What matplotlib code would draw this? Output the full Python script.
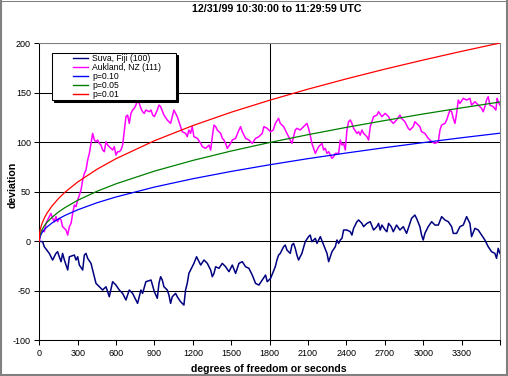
import matplotlib
matplotlib.use("Agg")
import matplotlib.pyplot as plt
from matplotlib.patches import Rectangle
from matplotlib.lines import Line2D

plt.rcParams['font.family'] = ['Liberation Sans', 'DejaVu Sans']

# ---------------- data ----------------
title = "12/31/99 10:30:00 to 11:29:59 UTC"
xlabel = "degrees of freedom or seconds"
ylabel = "deviation"
x_ticks = [0, 300, 600, 900, 1200, 1500, 1800, 2100, 2400, 2700, 3000, 3300, 3600]
x_ticklabels = ["0", "300", "600", "900", "1200", "1500", "1800", "2100", "2400",
                "2700", "3000", "3300", ""]
y_ticks = [-100, -50, 0, 50, 100, 150, 200]
labels = ["Suva, Fiji (100)", "Aukland, NZ (111)", "p=0.10", "p=0.05", "p=0.01"]

suva_t = [0, 26, 39, 78, 104, 130, 143, 156, 170, 182, 196, 222, 235, 274, 287, 300, 313, 339, 352, 365,
          378, 404, 417, 430, 443, 469, 495, 521, 547, 573, 599, 625, 651, 677, 703, 729, 755, 768, 794, 807,
          833, 873, 899,
          922, 935, 948, 961, 974, 1000, 1013, 1026, 1039, 1065, 1078, 1104, 1130, 1143, 1156, 1169, 1182, 1208, 1229, 1248,
          1261, 1287, 1313, 1339, 1352, 1365, 1378, 1404, 1430, 1456, 1482, 1508, 1534, 1560, 1586, 1612, 1638, 1664, 1690,
          1716, 1742, 1768, 1781, 1807, 1828,
          1844, 1857, 1870, 1883, 1896, 1909, 1922, 1935, 1961, 1974, 1987, 2000, 2013, 2026, 2052, 2078, 2104, 2117, 2130,
          2157, 2170, 2196, 2222, 2248, 2261, 2274, 2287, 2313, 2326, 2339, 2352, 2365, 2378, 2404, 2430, 2443, 2456, 2482,
          2495, 2521, 2534, 2560, 2586, 2612, 2638, 2651, 2664, 2677, 2703, 2716, 2729, 2750,
          2766, 2792, 2818, 2844, 2870, 2883, 2896, 2909, 2935, 2948, 2974, 2987, 3000, 3013, 3039, 3066, 3092, 3118, 3144,
          3170, 3196, 3222, 3235, 3261, 3287, 3313, 3339, 3365, 3378, 3404, 3430, 3456, 3482, 3508, 3534, 3560, 3573, 3586,
          3599]
suva_v = [0, -0.4, -5.5, -12.2, -18.9, -12.2, -10.5, -15.6, -20.6, -12.2, -18.9, -29.0, -15.6, -13.9, -18.9, -15.6, -24.0, -29.0, -13.9, -12.2,
          -17.2, -22.3, -29.0, -35.8, -42.5, -45.9, -49.2, -45.9, -56.0, -40.8, -44.2, -49.2, -52.6, -59.3, -49.2, -52.6, -59.3, -62.7, -49.2, -52.6,
          -40.8, -39.1, -50.9,
          -57.6, -42.5, -35.8, -39.1, -45.9, -49.2, -54.3, -62.7, -56.0, -52.6, -56.0, -61.0, -64.4, -49.2, -42.5, -32.4, -29.0, -22.3, -15.6, -20.6,
          -24.0, -18.9, -22.3, -29.0, -35.8, -32.4, -25.7, -27.3, -22.3, -25.7, -30.7, -24.0, -32.4, -22.3, -20.6, -25.7, -27.3, -34.1, -42.5,
          -44.2, -39.1, -34.1, -40.8, -37.5, -30.7,
          -25.7, -18.9, -13.9, -12.2, -8.8, -5.5, -3.8, -8.8, -12.2, -3.8, -2.1, -7.1, -13.9, -18.9, -12.2, -0.4, 4.7, 6.3, -0.4,
          3.0, -2.1, 4.7, -3.8, -12.2, -20.6, -15.6, -10.5, -5.5, 1.3, -2.1, 1.3, 3.0, 11.4, 11.4, 9.7, 6.3, 13.1, 19.8,
          21.5, 18.1, 14.8, 18.1, 19.8, 11.4, 14.8, 18.1, 11.4, 16.4, 11.4, 9.7, 18.1, 14.8,
          9.7, 16.4, 11.4, 14.8, 8.0, 13.1, 18.1, 23.2, 26.5, 23.2, 14.8, 6.3, 1.3, 8.0, 14.8, 19.8, 16.4, 16.4, 24.9,
          21.5, 19.8, 14.8, 8.0, 8.0, 14.8, 16.4, 24.9, 18.1, 4.7, 13.1, 11.4, 6.3, 1.3, -5.5, -10.5, -12.2, -17.2, -7.1,
          -12.2]

auck_t = [0, 13, 26, 39, 52, 65, 78, 91, 104, 117, 130, 143, 156, 170, 182, 196, 209, 222, 235, 248,
          261, 274, 287, 300, 313, 326, 339, 352, 365, 378, 391, 404, 417, 430, 443, 456, 469, 482, 495, 508,
          521, 534, 547, 560, 573, 586, 599, 612, 625, 638, 651, 659, 677, 690, 703, 716, 729, 742, 755, 768,
          781, 794, 807, 820, 833, 859, 873, 886, 899,
          922, 935, 948, 974, 1000, 1026, 1039, 1052, 1065, 1078, 1091, 1104, 1117, 1143, 1156, 1169, 1182, 1195, 1208, 1235,
          1261, 1274, 1300, 1326, 1339, 1352, 1365, 1378, 1391, 1417, 1430, 1443, 1456, 1469, 1495, 1508, 1534, 1560, 1573, 1586,
          1612, 1638, 1664, 1690, 1716, 1742, 1755, 1781, 1807, 1828,
          1844, 1870, 1883, 1909, 1935, 1961, 1974, 1987, 2000, 2013, 2039, 2065, 2091, 2104, 2117, 2130, 2143, 2157, 2183, 2209,
          2222, 2235, 2248, 2261, 2274, 2287, 2300, 2313, 2339, 2352, 2365, 2378, 2391, 2404, 2417, 2430, 2443, 2456, 2482, 2495,
          2508, 2521, 2534, 2560, 2573, 2586, 2599, 2612, 2638, 2651, 2677, 2703, 2729, 2742,
          2766, 2792, 2818, 2831, 2857, 2883, 2896, 2922, 2935, 2948, 2974, 2987, 3013, 3039, 3052, 3066, 3092, 3118, 3131, 3144,
          3170, 3183, 3196, 3209, 3222, 3235, 3248, 3261, 3274, 3287, 3313, 3339, 3365, 3378, 3404, 3430, 3456, 3469, 3482, 3495,
          3508, 3521, 3547, 3568, 3578, 3586, 3599]
auck_v = [0, 8.0, 11.4, 9.7, 18.1, 21.5, 24.9, 28.2, 23.2, 19.8, 24.9, 19.8, 23.2, 21.5, 14.8, 13.1, 11.4, 6.3, 14.8, 18.1,
          28.2, 36.6, 35.0, 41.7, 46.7, 51.8, 61.9, 68.6, 72.0, 82.1, 88.8, 98.9, 109.0, 102.3, 100.6, 102.3, 98.9, 97.2, 92.2, 90.5,
          100.6, 97.2, 95.6, 93.9, 92.2, 95.6, 87.1, 90.5, 90.5, 92.2, 97.2, 105.7, 125.9, 127.5, 119.1, 129.2, 132.6, 134.3, 137.6, 142.7,
          139.3, 134.3, 130.9, 129.2, 132.6, 130.9, 132.6, 127.5, 125.9,
          132.6, 137.6, 136.0, 127.5, 122.5, 119.1, 125.9, 132.6, 129.2, 125.9, 120.8, 115.8, 110.7, 109.0, 105.7, 112.4, 109.0, 115.8, 105.7, 104.0,
          98.9, 95.6, 93.9, 97.2, 92.2, 105.7, 117.4, 115.8, 112.4, 109.0, 104.0, 102.3, 98.9, 93.9, 98.9, 102.3, 104.0, 112.4, 115.8, 110.7,
          104.0, 102.3, 98.9, 104.0, 105.7, 109.0, 115.8, 114.1, 110.7, 112.4,
          119.1, 124.2, 119.1, 115.8, 109.0, 102.3, 98.9, 105.7, 112.4, 114.1, 112.4, 115.8, 119.1, 114.1, 107.3, 98.9, 93.9, 88.8, 95.6, 98.9,
          92.2, 93.9, 88.8, 90.5, 87.1, 83.8, 85.5, 88.8, 88.8, 102.3, 97.2, 98.9, 92.2, 112.4, 120.8, 122.5, 119.1, 114.1, 109.0, 110.7,
          107.3, 112.4, 109.0, 105.7, 102.3, 115.8, 120.8, 125.9, 127.5, 130.9, 125.9, 129.2, 125.9, 122.5,
          119.1, 122.5, 127.5, 124.2, 120.8, 114.1, 112.4, 115.8, 120.8, 119.1, 115.8, 110.7, 109.0, 104.0, 102.3, 100.6, 98.9, 100.6, 112.4, 117.4,
          119.1, 122.5, 127.5, 132.6, 130.9, 124.2, 119.1, 129.2, 142.7, 139.3, 144.4, 142.7, 144.4, 137.6, 141.0, 137.6, 134.3, 130.9, 136.0, 142.7,
          146.1, 137.6, 136.0, 132.6, 144.4, 141.0, 137.6]

crit_df = [0, 1, 2, 3, 5, 10, 20, 40, 60, 100, 150, 200, 300, 450, 600, 900, 1200, 1500,
           1800, 2100, 2400, 2700, 3000, 3300, 3600]
p10 = [0, 1.7, 2.6, 3.2, 4.2, 6.0, 8.5, 11.9, 14.5, 18.6, 22.6, 26.1, 31.8, 38.9, 44.8, 54.8, 63.2, 70.6,
       77.3, 83.5, 89.2, 94.6, 99.7, 104.6, 109.2]
p05 = [0, 2.8, 4.0, 4.8, 6.1, 8.3, 11.4, 15.8, 19.1, 24.3, 29.6, 34.0, 41.4, 50.5, 58.1, 70.9, 81.7, 91.2,
       99.8, 107.7, 115.1, 122.0, 128.6, 134.8, 140.7]
p01 = [0, 5.6, 7.2, 8.3, 10.1, 13.2, 17.6, 23.7, 28.4, 35.8, 43.2, 49.5, 59.9, 72.7, 83.5, 101.6, 116.9, 130.4,
       142.5, 153.7, 164.1, 173.9, 183.1, 191.9, 200.3]

colors = ["#000080", "#ff00ff", "#0000ff", "#008000", "#ff0000"]

# ---------------- figure ----------------
W, H = 508, 376
fig = plt.figure(figsize=(W / 100, H / 100), dpi=100, facecolor="white")

def fx(px):
    return px / W

def fy(py):
    return 1 - py / H

ax = fig.add_axes([fx(39.3), fy(340.3), fx(500) - fx(39.3), fy(43.3) - fy(340.3)])
ax.set_facecolor("white")

l1, = ax.plot(suva_t, suva_v, color=colors[0], lw=1.1, zorder=3)
l2, = ax.plot(auck_t, auck_v, color=colors[1], lw=1.1, zorder=3)
l3, = ax.plot(crit_df, p10, color=colors[2], lw=0.9, zorder=4)
l4, = ax.plot(crit_df, p05, color=colors[3], lw=0.9, zorder=4)
l5, = ax.plot(crit_df, p01, color=colors[4], lw=0.9, zorder=4)

ax.set_xlim(0, 3600)
ax.set_ylim(-100, 200)
ax.set_xticks(x_ticks)
ax.set_xticklabels(x_ticklabels)
ax.set_yticks(y_ticks)
ax.set_yticklabels([str(v) for v in y_ticks])
ax.tick_params(axis="both", direction="out", length=3.5, width=0.75, color="black",
               labelsize=6.5, pad=2.5)
ax.set_axisbelow(True)
ax.yaxis.grid(True, color="black", lw=0.75)
ax.axvline(1800, color="black", lw=0.75, zorder=1)

for side in ("left", "bottom"):
    ax.spines[side].set_color("black")
    ax.spines[side].set_linewidth(0.75)
for side in ("top", "right"):
    ax.spines[side].set_color("#808080")
    ax.spines[side].set_linewidth(0.75)

# titles
fig.text(fx(277), fy(9.5), title, ha="center", va="center", fontsize=7.7, fontweight="bold")
fig.text(fx(269), fy(369), xlabel, ha="center", va="center", fontsize=7.6, fontweight="bold")
fig.text(fx(12.5), fy(185), ylabel, ha="center", va="center", rotation=90,
         fontsize=7.6, fontweight="bold")

# legend box with shadow
box_top, box_bot = 53, 100
fig.add_artist(Rectangle((fx(54), fy(box_bot + 2)), fx(124), fy(box_top) - fy(box_bot),
                         transform=fig.transFigure, facecolor="black", edgecolor="black",
                         lw=0.75, zorder=5))
fig.add_artist(Rectangle((fx(52), fy(box_bot)), fx(124), fy(box_top) - fy(box_bot),
                         transform=fig.transFigure, facecolor="white", edgecolor="black",
                         lw=0.75, zorder=5.1))
leg = fig.legend([l1, l2, l3, l4, l5], labels, loc="upper left",
                 bbox_to_anchor=(fx(73), fy(54)), bbox_transform=fig.transFigure,
                 frameon=False, fontsize=6.2, labelspacing=0.0, handlelength=1.75,
                 handletextpad=0.45, borderpad=0, borderaxespad=0)
leg.set_zorder(6)
for h in leg.get_lines():
    h.set_linewidth(1.0)

# outer figure border
fig.add_artist(Line2D([fx(1), fx(1)], [0, 1], transform=fig.transFigure, color="#808080", lw=1.5, zorder=10))
fig.add_artist(Line2D([0, 1], [fy(0.5), fy(0.5)], transform=fig.transFigure, color="#808080", lw=0.75, zorder=10))
fig.add_artist(Line2D([fx(506.5), fx(506.5)], [0, 1], transform=fig.transFigure, color="#808080", lw=2.2, zorder=10))
fig.add_artist(Line2D([0, 1], [fy(374.5), fy(374.5)], transform=fig.transFigure, color="#808080", lw=2.2, zorder=10))

fig.savefig("out.png", dpi=100, facecolor="white")
